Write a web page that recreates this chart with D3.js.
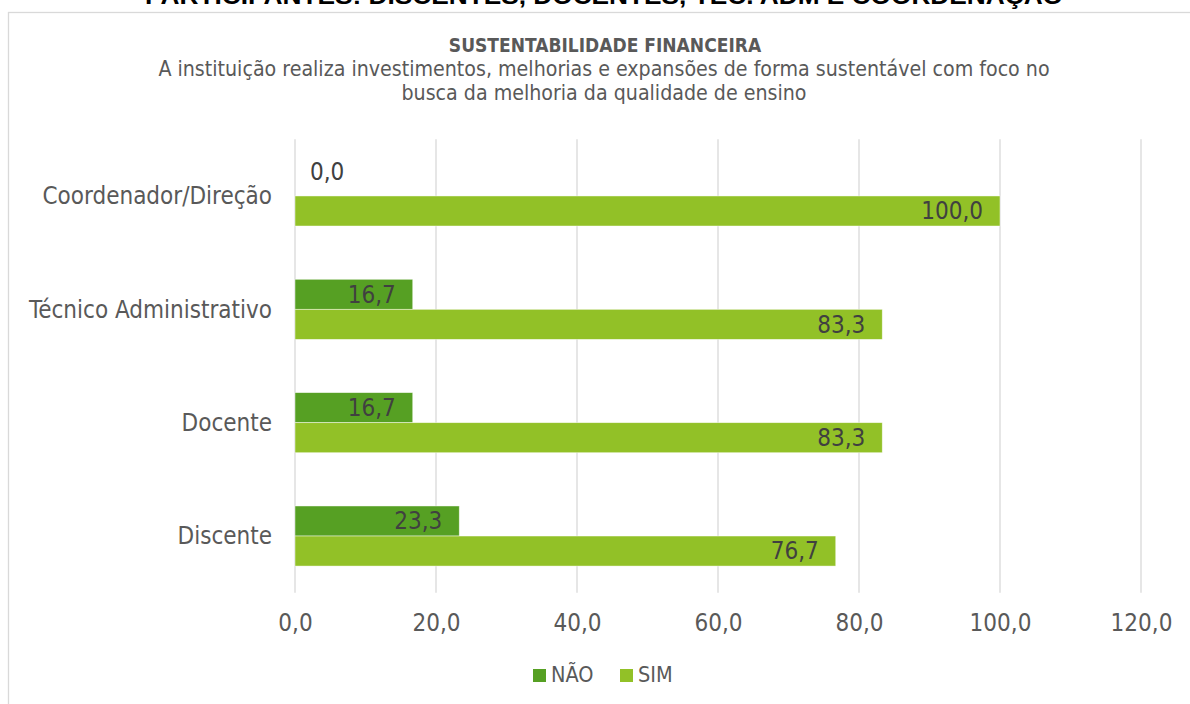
<!DOCTYPE html>
<html>
<head>
<meta charset="utf-8">
<script src="https://cdn.jsdelivr.net/npm/d3@7/dist/d3.min.js"></script>
<style>
  html, body { margin: 0; padding: 0; background: #fff; }
  svg { display: block; }
  .f { font-family: "DejaVu Sans Condensed", "DejaVu Sans", sans-serif; }
</style>
</head>
<body>
<svg id="chart" width="1190" height="704"></svg>
<script>
// ---- data ----
const categories = ["Coordenador/Direção", "Técnico Administrativo", "Docente", "Discente"];
const seriesNames = ["NÃO", "SIM"];
const naoValues = [0.0, 16.7, 16.7, 23.3];
const simValues = [100.0, 83.3, 83.3, 76.7];
const xTicks = [0, 20, 40, 60, 80, 100, 120];
const topTitle = "PARTICIPANTES: DISCENTES, DOCENTES, TEC. ADM E COORDENAÇÃO";
const chartTitle = "SUSTENTABILIDADE FINANCEIRA";
const subtitleLines = [
  "A instituição realiza investimentos, melhorias e expansões de forma sustentável com foco no",
  "busca da melhoria da qualidade de ensino"
];
const colors = { "NÃO": "#56A023", "SIM": "#92C127" };

// ---- setup ----
const svg = d3.select("#chart");
const locale = d3.formatLocale({ decimal: ",", thousands: ".", grouping: [3], currency: ["", ""] });
const fmt = locale.format(".1f");

svg.append("rect").attr("width", 1190).attr("height", 704).attr("fill", "#fff");

// chart border
svg.append("rect")
  .attr("x", 8.5).attr("y", 12.5)
  .attr("width", 1200).attr("height", 720)
  .attr("fill", "none").attr("stroke", "#d9d9d9").attr("stroke-width", 1.3);

// top title (cut off at the top edge, as in the source page)
svg.append("text")
  .attr("x", 604).attr("y", 4)
  .attr("text-anchor", "middle")
  .attr("font-family", "Liberation Sans, Arial, sans-serif")
  .attr("font-weight", "bold")
  .attr("font-size", 24)
  .attr("fill", "#000")
  .attr("textLength", 918).attr("lengthAdjust", "spacingAndGlyphs")
  .text(topTitle);

// chart title
svg.append("text").attr("class", "f")
  .attr("x", 605).attr("y", 52)
  .attr("text-anchor", "middle")
  .attr("font-weight", "bold").attr("font-size", 19)
  .attr("fill", "#595959")
  .text(chartTitle);

svg.selectAll("text.sub").data(subtitleLines).join("text")
  .attr("class", "f sub")
  .attr("x", 604).attr("y", (d, i) => 76 + i * 24)
  .attr("text-anchor", "middle")
  .attr("font-size", 21.2)
  .attr("fill", "#595959")
  .text(d => d);

// scales
const x = d3.scaleLinear().domain([0, 120]).range([295, 1141]);
const y = d3.scaleBand().domain(categories).range([139.3, 592.7]).paddingInner(0).paddingOuter(0);
const groupFrac = 0.53;
const bw = y.bandwidth();
const y1 = d3.scaleBand().domain(seriesNames)
  .range([bw * (1 - groupFrac) / 2, bw * (1 + groupFrac) / 2]);

// gridlines
svg.append("g").selectAll("line").data(xTicks).join("line")
  .attr("x1", d => x(d)).attr("x2", d => x(d))
  .attr("y1", 139.3).attr("y2", 592.7)
  .attr("stroke", "#d9d9d9").attr("stroke-width", 1.3);

// x axis
const xAxis = d3.axisBottom(x).tickValues(xTicks).tickFormat(fmt).tickSize(0).tickPadding(0);
const gx = svg.append("g").attr("transform", "translate(0,612)").call(xAxis);
gx.select(".domain").remove();
gx.selectAll("text").attr("class", "f").attr("font-size", 24).attr("fill", "#595959")
  .attr("dy", "0.71em").attr("y", 2);

// y axis labels
const yAxis = d3.axisLeft(y).tickSize(0).tickPadding(0);
const gy = svg.append("g").attr("transform", "translate(272,0)").call(yAxis);
gy.select(".domain").remove();
gy.selectAll("text").attr("class", "f").attr("font-size", 24).attr("fill", "#595959")
  .attr("dy", "0.35em");

// bars
const rows = categories.map((c, i) => ({ cat: c, vals: [
  { s: "NÃO", v: naoValues[i] }, { s: "SIM", v: simValues[i] }
]}));

const groups = svg.append("g").selectAll("g").data(rows).join("g")
  .attr("transform", d => `translate(0,${y(d.cat)})`);

groups.selectAll("rect").data(d => d.vals).join("rect")
  .attr("x", x(0))
  .attr("y", d => y1(d.s))
  .attr("width", d => x(d.v) - x(0))
  .attr("height", y1.bandwidth())
  .attr("fill", d => colors[d.s])
  .attr("stroke", d => d.v > 0 ? "rgba(255,255,255,0.6)" : "none")
  .attr("stroke-width", 0.75);

groups.selectAll("text").data(d => d.vals).join("text")
  .attr("class", "f")
  .attr("x", d => d.v > 0 ? x(d.v) - 17 : x(0) + 15)
  .attr("y", d => y1(d.s) + y1.bandwidth() / 2)
  .attr("dy", d => d.v > 0 ? "0.35em" : "-0.05em")
  .attr("text-anchor", d => d.v > 0 ? "end" : "start")
  .attr("font-size", 24)
  .attr("fill", "#404040")
  .text(d => fmt(d.v));

// legend
const legend = svg.append("g").attr("transform", "translate(533,669)");
const li = legend.selectAll("g").data(seriesNames).join("g")
  .attr("transform", (d, i) => `translate(${i * 87},0)`);
li.append("rect").attr("width", 13).attr("height", 13).attr("fill", d => colors[d]);
li.append("text").attr("class", "f")
  .attr("x", 18).attr("y", 13)
  .attr("font-size", 21.5).attr("fill", "#595959")
  .text(d => d);
</script>
</body>
</html>
